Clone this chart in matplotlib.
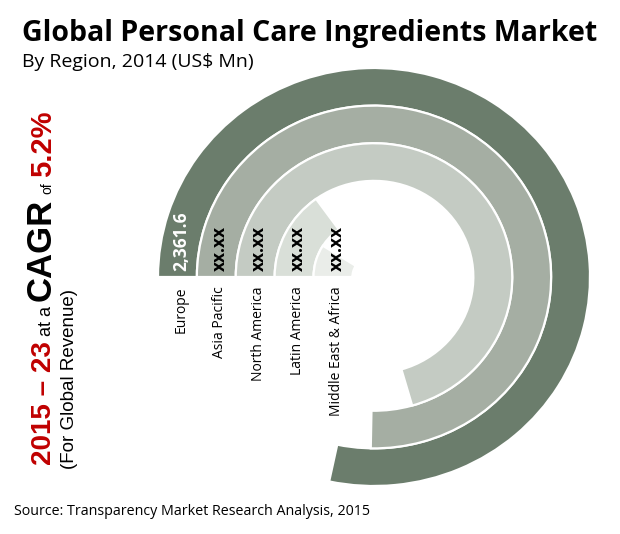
import matplotlib
matplotlib.use('Agg')
import matplotlib.pyplot as plt
from matplotlib.patches import Wedge

# ---- data ----
regions = ['Europe', 'Asia Pacific', 'North America', 'Latin America', 'Middle East & Africa']
values = [2361.6, 2270.0, 2127.0, 455.0, 270.0]      # US$ Mn, estimated from arc lengths
value_labels = ['2,361.6', 'xx.xx', 'xx.xx', 'xx.xx', 'xx.xx']
full_circle_value = 3015.0                             # value that would fill 360 degrees

title = 'Global Personal Care Ingredients Market'
subtitle = 'By Region, 2014 (US$ Mn)'
source = 'Source: Transparency Market Research Analysis, 2015'

# ---- style ----
colors = ['#6B7D6C', '#A5AEA3', '#C4CBC3', '#D9DFD8', '#EAEDE9']
value_colors = ['white', 'black', 'black', 'black', 'black']
ring_w = 0.18
FONT = 'Open Sans'

W, H = 620, 534
fig = plt.figure(figsize=(W / 100, H / 100), dpi=100)
fig.patch.set_facecolor('white')

ax = fig.add_axes([158 / W, 48 / H, 432 / W, 418 / H])
ax.set_xlim(-1, 1)
ax.set_ylim(-1, 1)
ax.axis('off')

for i, (reg, v, lab) in enumerate(zip(regions, values, value_labels)):
    r = 1.0 - ring_w * i
    sweep = 360.0 * v / full_circle_value
    ax.add_patch(Wedge((0, 0), r, 180 - sweep, 180, width=ring_w,
                       facecolor=colors[i], edgecolor='white', linewidth=1.6))
    xm = -(r - ring_w / 2) + 0.017
    ax.text(xm, 0.03, lab, rotation=90, ha='center', va='bottom',
            fontsize=12.5, fontweight='bold', color=value_colors[i], family=FONT)
    ax.text(xm, -0.045, reg, rotation=90, ha='center', va='top',
            fontsize=10, color='black', family=FONT)

fig.text(22 / W, 1 - 41 / H, title, fontsize=20.5, fontweight='bold',
         family=FONT, va='baseline', ha='left')
fig.text(22 / W, 1 - 67 / H, subtitle, fontsize=14, family=FONT,
         va='baseline', ha='left')
fig.text(14 / W, 1 - 515 / H, source, fontsize=10.3, family=FONT,
         va='baseline', ha='left')

# ---- rotated CAGR text ----
renderer = fig.canvas.get_renderer()
pieces = [('2015 \u2013 23', 20, 'bold', '#C00000'),
          ('at a', 13, 'normal', 'black'),
          ('CAGR', 25, 'bold', 'black'),
          ('of', 10, 'normal', 'black'),
          ('5.2%', 21, 'bold', '#C00000')]
y = H - 465
for s, fs, fw, c in pieces:
    t = fig.text(51 / W, y / H, s, rotation=90, rotation_mode='anchor',
                 ha='left', va='baseline', fontsize=fs, fontweight=fw,
                 color=c, family='Liberation Sans')
    bb = t.get_window_extent(renderer)
    y += bb.height + 5
fig.text(74 / W, (H - 469) / H, '(For Global Revenue)', rotation=90,
         rotation_mode='anchor', ha='left', va='baseline', fontsize=13.5,
         color='black', family='Liberation Sans')

fig.savefig('out.png', dpi=100)
